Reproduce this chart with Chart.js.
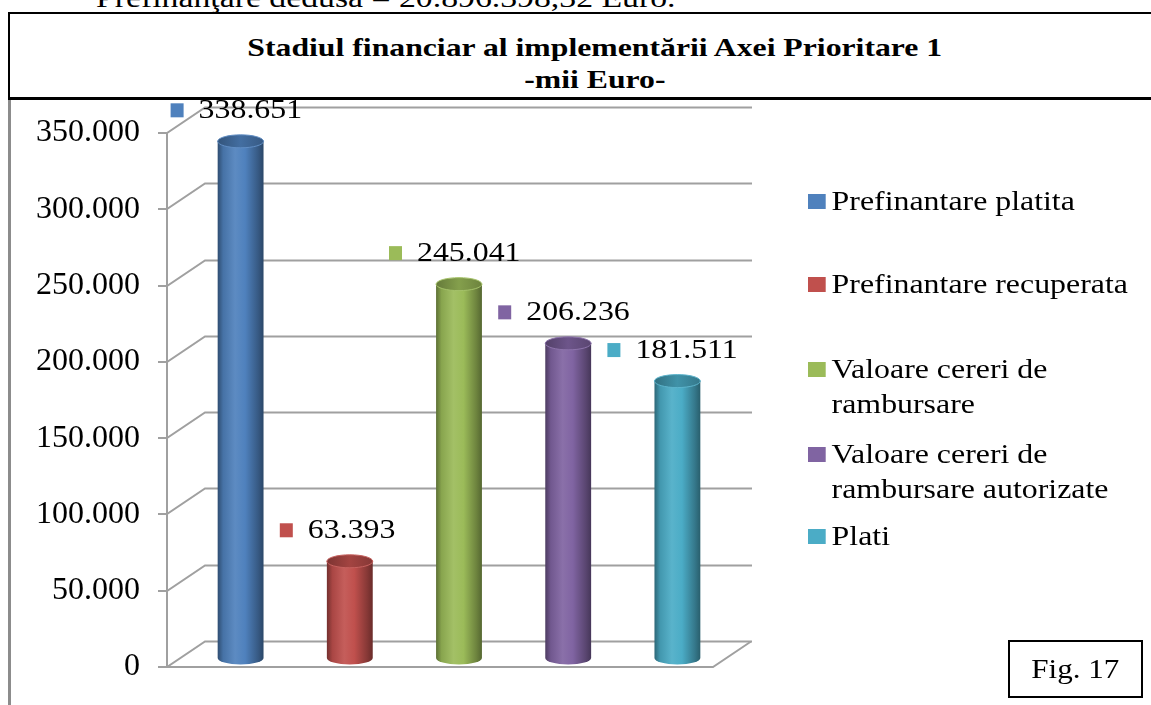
<!DOCTYPE html>
<html>
<head>
<meta charset="utf-8">
<script src="https://cdn.jsdelivr.net/npm/chart.js@4.4.1/dist/chart.umd.min.js"></script>
<style>
  html, body { margin: 0; padding: 0; width: 1151px; height: 705px; overflow: hidden; background: #fff; }
  body { position: relative; font-family: "Liberation Serif", "Times New Roman", serif; color: #000; }
  .wide { display: inline-block; transform: scaleX(1.2); }
  #topText { position: absolute; left: 96px; top: -17px; font-size: 27px; line-height: 30px; white-space: nowrap; transform: scaleX(1.25); transform-origin: 0 0; }
  #titleBox {
    position: absolute; left: 8px; top: 12px; width: 1170px; height: 65px; padding-top: 18px;
    border-top: 2px solid #000; border-left: 2px solid #000; border-bottom: 3px solid #000;
    text-align: center; font-weight: bold; font-size: 26px; line-height: 32px; background: #fff;
  }
  #titleBox .wide { transform: scaleX(1.22); }
  #frameLine { position: absolute; left: 8px; top: 100px; height: 605px; border-left: 3px solid #8c8c8c; }
  #umap { position: absolute; left: 0; top: 0; }
  .legend-item { position: absolute; left: 808px; display: flex; font-size: 27px; line-height: 35px; transform: scaleX(1.18); transform-origin: 0 0; }
  .legend-item .sw { width: 15px; height: 15px; margin-top: 10px; flex: none; }
  .legend-item .tx { margin-left: 5px; width: 262px; }
  #figBox {
    position: absolute; left: 1008px; top: 640px; width: 131px; height: 54px;
    border: 2px solid #000; text-align: center; font-size: 27px; line-height: 54px;
  }
  #figBox .wide { transform: scaleX(1.15); }
</style>
</head>
<body>
<div id="topText">Prefinanţare dedusă = 20.896.398,32 Euro.</div>
<div id="titleBox"><span class="wide">Stadiul financiar al implementării Axei Prioritare 1</span><br><span class="wide">-mii Euro-</span></div>
<div id="frameLine"></div>
<canvas id="umap" width="1151" height="705"></canvas>
<div id="legendBox"></div>
<div id="figBox"><span class="wide">Fig. 17</span></div>
<script>
const categories = [""];
const seriesNames = [
  "Prefinantare platita",
  "Prefinantare recuperata",
  "Valoare cereri de rambursare",
  "Valoare cereri de rambursare autorizate",
  "Plati",
];
const seriesValues = [338651, 63393, 245041, 206236, 181511];
const seriesColors = ["#4F81BD", "#C0504D", "#9BBB59", "#8064A2", "#4BACC6"];
const yMax = 350000;
const yStep = 50000;

// depth of the fake 3D box, and where the cylinders sit inside it
const DX = 38, DY = -25.5;
const BAR_DX = 19, BAR_DY = -9;
const legendTops = [184, 267, 352, 437, 519];

function fmt(v) {
  return String(v).replace(/\B(?=(\d{3})+(?!\d))/g, ".");
}

function shade(hex, f) {
  const n = parseInt(hex.slice(1), 16);
  let r = n >> 16, g = (n >> 8) & 255, b = n & 255;
  const t = f < 0 ? 0 : 255, p = Math.abs(f);
  r = Math.round(r + (t - r) * p);
  g = Math.round(g + (t - g) * p);
  b = Math.round(b + (t - b) * p);
  return `rgb(${r},${g},${b})`;
}

const box3d = {
  id: "box3d",
  beforeDatasetsDraw(chart) {
    const { ctx, chartArea: a, scales: { y } } = chart;
    ctx.save();
    ctx.strokeStyle = "#a0a0a0";
    ctx.lineWidth = 2;
    y.ticks.forEach((t) => {
      const yy = Math.round(y.getPixelForValue(t.value));
      ctx.beginPath();
      ctx.moveTo(a.left - 9, yy);
      ctx.lineTo(a.left, yy);
      ctx.lineTo(a.left + DX, yy + DY);
      ctx.lineTo(a.right + DX + 1, yy + DY);
      ctx.stroke();
    });
    ctx.beginPath();
    ctx.moveTo(a.left, a.top);
    ctx.lineTo(a.left, a.bottom);
    ctx.lineTo(a.right, a.bottom);
    ctx.lineTo(a.right + DX, a.bottom + DY);
    ctx.stroke();
    ctx.restore();
  },
  beforeDatasetDraw(chart, args) {
    const { ctx } = chart;
    const color = seriesColors[args.index];
    args.meta.data.forEach((el) => {
      const x = el.x + BAR_DX;
      const top = el.y + BAR_DY;
      const base = el.base + BAR_DY;
      const rx = el.width / 2, ry = 6.5;
      ctx.save();
      const g = ctx.createLinearGradient(x - rx, 0, x + rx, 0);
      g.addColorStop(0, shade(color, -0.4));
      g.addColorStop(0.12, shade(color, -0.12));
      g.addColorStop(0.38, shade(color, 0.08));
      g.addColorStop(0.6, color);
      g.addColorStop(0.88, shade(color, -0.3));
      g.addColorStop(1, shade(color, -0.45));
      ctx.beginPath();
      ctx.moveTo(x - rx, top);
      ctx.lineTo(x - rx, base);
      ctx.ellipse(x, base, rx, ry, 0, Math.PI, 0, true);
      ctx.lineTo(x + rx, top);
      ctx.closePath();
      ctx.fillStyle = g;
      ctx.fill();
      const gt = ctx.createLinearGradient(x - rx, 0, x + rx, 0);
      gt.addColorStop(0, shade(color, -0.35));
      gt.addColorStop(0.5, shade(color, -0.15));
      gt.addColorStop(1, shade(color, -0.3));
      ctx.beginPath();
      ctx.ellipse(x, top, rx, ry, 0, 0, Math.PI * 2);
      ctx.fillStyle = gt;
      ctx.fill();
      ctx.strokeStyle = shade(color, 0.1);
      ctx.lineWidth = 1;
      ctx.stroke();
      ctx.restore();
    });
    return false;
  },
  afterDatasetsDraw(chart) {
    const { ctx } = chart;
    ctx.save();
    ctx.font = '27px "Liberation Serif"';
    ctx.textBaseline = "middle";
    chart.data.datasets.forEach((ds, i) => {
      const el = chart.getDatasetMeta(i).data[0];
      const x = el.x + BAR_DX;
      const cy = el.y + BAR_DY - 31;
      ctx.fillStyle = seriesColors[i];
      ctx.fillRect(x - 70, cy - 7, 13, 14);
      ctx.fillStyle = "#000";
      ctx.save();
      ctx.translate(x - 42, cy + 1);
      ctx.scale(1.18, 1);
      ctx.fillText(fmt(ds.data[0]), 0, 0);
      ctx.restore();
    });
    ctx.restore();
  },
};

const ctx = document.getElementById("umap").getContext("2d");
const chart = new Chart(ctx, {
  type: "bar",
  data: {
    labels: categories,
    datasets: seriesNames.map((name, i) => ({
      label: name,
      data: [seriesValues[i]],
      backgroundColor: seriesColors[i],
      categoryPercentage: 1,
      barPercentage: 0.42,
    })),
  },
  options: {
    responsive: false,
    animation: false,
    layout: { padding: { top: 133, bottom: 38, right: 438, left: 0 } },
    scales: {
      x: { display: false },
      y: {
        min: 0,
        max: yMax,
        afterFit: (s) => { s.width = 167; },
        // tick marks are not drawn, their length only pushes the labels left
        grid: { display: false, drawTicks: true, tickLength: 27 },
        border: { display: false },
        ticks: {
          stepSize: yStep,
          padding: 0,
          color: "#000",
          font: { family: "Liberation Serif", size: 32 },
          callback: (v) => fmt(v),
        },
      },
    },
    plugins: {
      legend: { display: false },
      tooltip: { enabled: false },
    },
  },
  plugins: [box3d],
});

// legend built from the chart's own datasets
const legendBox = document.getElementById("legendBox");
chart.data.datasets.forEach((ds, i) => {
  const item = document.createElement("div");
  item.className = "legend-item";
  item.style.top = legendTops[i] + "px";
  item.innerHTML = `<span class="sw" style="background:${ds.backgroundColor}"></span><span class="tx">${ds.label}</span>`;
  legendBox.appendChild(item);
});
</script>
</body>
</html>
